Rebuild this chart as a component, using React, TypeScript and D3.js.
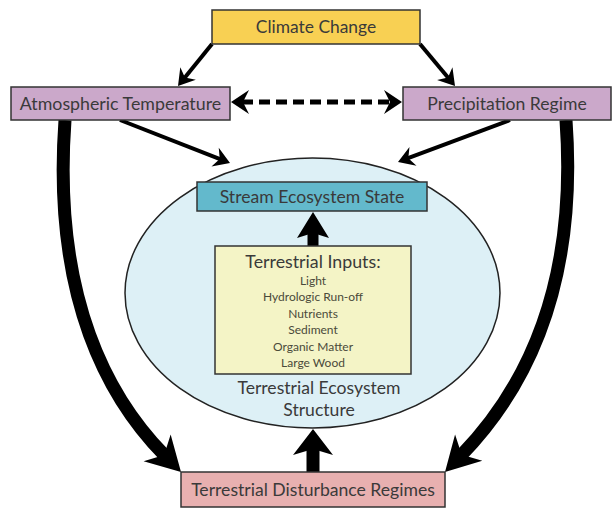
import React from "react";
import * as d3 from "d3";

const W = 613;
const H = 508;

const boxLabels = [
  "Climate Change",
  "Atmospheric Temperature",
  "Precipitation Regime",
  "Stream Ecosystem State",
  "Terrestrial Disturbance Regimes",
];
const inputsTitle = "Terrestrial Inputs:";
const inputItems = ["Light", "Hydrologic Run-off", "Nutrients", "Sediment", "Organic Matter", "Large Wood"];
const ellipseLabel = ["Terrestrial Ecosystem", "Structure"];

const FONT = "Lato, 'Open Sans', sans-serif";
const TXT = "#3a3a3a";

type P = [number, number];

function head(tip: P, from: P, L: number, Wd: number, notch: number) {
  const dx = tip[0] - from[0];
  const dy = tip[1] - from[1];
  const len = Math.hypot(dx, dy);
  const ux = dx / len, uy = dy / len;
  const px = -uy, py = ux;
  const p = d3.path();
  p.moveTo(tip[0], tip[1]);
  p.lineTo(tip[0] - L * ux + Wd * px, tip[1] - L * uy + Wd * py);
  p.lineTo(tip[0] - (L - notch) * ux, tip[1] - (L - notch) * uy);
  p.lineTo(tip[0] - L * ux - Wd * px, tip[1] - L * uy - Wd * py);
  p.closePath();
  const back: P = [tip[0] - (L - notch - 1) * ux, tip[1] - (L - notch - 1) * uy];
  return { d: p.toString(), back };
}

function StraightArrow({ a, b, sw, L, Wd, notch, dash, both }: any) {
  const h = head(b, a, L, Wd, notch);
  let start: P = a;
  let h2: any = null;
  if (both) {
    h2 = head(a, b, L, Wd, notch);
    start = h2.back;
  }
  const line = d3.line()([start, h.back]);
  return (
    <g>
      <path d={line || ""} stroke="#000" strokeWidth={sw} fill="none" strokeDasharray={dash} />
      <path d={h.d} fill="#000" />
      {h2 && <path d={h2.d} fill="#000" />}
    </g>
  );
}

function CurveArrow({ p0, c1, c2, tip, sw }: any) {
  const h = head(tip, c2, 34, 19, 10);
  const p = d3.path();
  p.moveTo(p0[0], p0[1]);
  p.bezierCurveTo(c1[0], c1[1], c2[0], c2[1], h.back[0], h.back[1]);
  return (
    <g>
      <path d={p.toString()} stroke="#000" strokeWidth={sw} fill="none" />
      <path d={h.d} fill="#000" />
    </g>
  );
}

function Box({ x0, y0, x1, y1, fill, label, fs }: any) {
  return (
    <g>
      <rect x={x0} y={y0} width={x1 - x0} height={y1 - y0} fill={fill} stroke="#333" strokeWidth={1.5} />
      {label && (
        <text x={(x0 + x1) / 2} y={(y0 + y1) / 2 + fs * 0.35} textAnchor="middle" fontSize={fs} fill={TXT} fontFamily={FONT}>
          {label}
        </text>
      )}
    </g>
  );
}

export default function App() {
  const itemY = d3.scaleLinear().domain([0, inputItems.length - 1]).range([285, 367]);
  return (
    <svg width={W} height={H} style={{ position: "absolute", left: 0, top: 0, background: "#fff" }}>
      {/* ellipse */}
      <ellipse cx={312.5} cy={293} rx={187.5} ry={135} fill="#ddf0f6" stroke="#222" strokeWidth={1.5} />

      {/* big curved arrows */}
      <CurveArrow p0={[65, 120]} c1={[52, 300]} c2={[110, 400]} tip={[181, 472]} sw={13} />
      <CurveArrow p0={[566, 120]} c1={[579, 300]} c2={[515, 400]} tip={[445, 472]} sw={13} />

      {/* thin arrows */}
      <StraightArrow a={[212, 44]} b={[178, 86]} sw={4} L={16} Wd={10} notch={5} />
      <StraightArrow a={[420, 44]} b={[455, 86]} sw={4} L={16} Wd={10} notch={5} />
      <StraightArrow a={[120, 120]} b={[230, 163]} sw={4} L={16} Wd={10} notch={5} />
      <StraightArrow a={[510, 120]} b={[398, 162]} sw={4} L={16} Wd={10} notch={5} />
      <StraightArrow a={[231, 102]} b={[402, 102]} sw={5} L={18} Wd={12} notch={6} dash="11 6" both />

      {/* vertical thick arrows */}
      <StraightArrow a={[313, 472]} b={[313, 429]} sw={13} L={26} Wd={20} notch={6} />
      <StraightArrow a={[313, 246]} b={[313, 212]} sw={11} L={26} Wd={16} notch={5} />

      {/* boxes */}
      <Box x0={212} y0={10} x1={420} y1={44} fill="#f8d053" label={boxLabels[0]} fs={17.4} />
      <Box x0={11} y0={87} x1={230} y1={120} fill="#cba8ca" label={boxLabels[1]} fs={17.8} />
      <Box x0={403} y0={87} x1={611} y1={120} fill="#cba8ca" label={boxLabels[2]} fs={17.6} />
      <Box x0={197} y0={182} x1={427} y1={211} fill="#63b9cc" label={boxLabels[3]} fs={17.6} />
      <Box x0={181} y0={472} x1={445} y1={507} fill="#e8b0b0" label={boxLabels[4]} fs={17.6} />

      {/* terrestrial inputs */}
      <Box x0={215} y0={246} x1={411} y1={374} fill="#f4f4c6" />
      <text x={313} y={268} textAnchor="middle" fontSize={17.8} fill={TXT} fontFamily={FONT}>
        {inputsTitle}
      </text>
      {inputItems.map((t, i) => (
        <text key={t} x={313} y={itemY(i)} textAnchor="middle" fontSize={12} fill="#4a4a3a" fontFamily={FONT}>
          {t}
        </text>
      ))}

      {ellipseLabel.map((t, i) => (
        <text key={t} x={319} y={394 + i * 22} textAnchor="middle" fontSize={17.6} fill={TXT} fontFamily={FONT}>
          {t}
        </text>
      ))}
    </svg>
  );
}
